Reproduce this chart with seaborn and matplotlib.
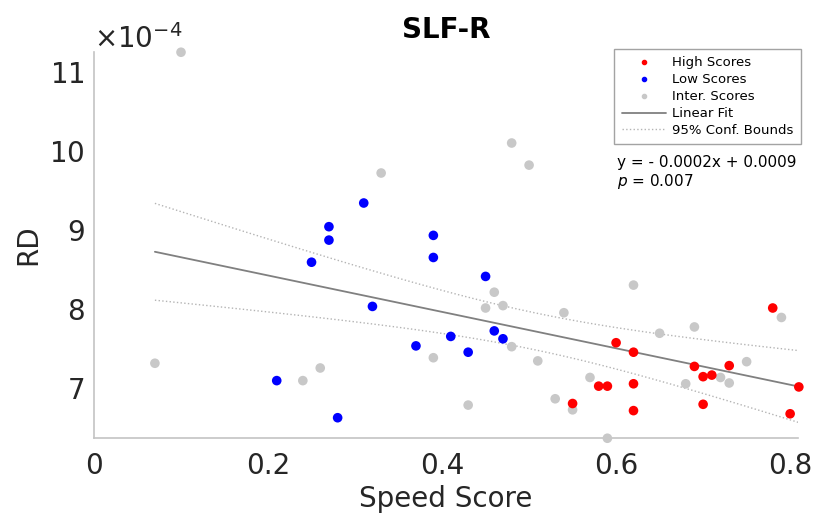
import numpy as np
import pandas as pd
import matplotlib
matplotlib.use("Agg")
import matplotlib.pyplot as plt
import seaborn as sns
from matplotlib.lines import Line2D
from matplotlib.ticker import ScalarFormatter

# Speed score vs RD (x1e-4)
high_x = [0.60, 0.62, 0.62, 0.62, 0.58, 0.59, 0.55, 0.69, 0.70, 0.71, 0.73, 0.70, 0.78, 0.81, 0.80]
high_y = [7.57, 7.45, 7.05, 6.71, 7.02, 7.02, 6.80, 7.27, 7.14, 7.16, 7.28, 6.79, 8.01, 7.01, 6.67]

low_x = [0.31, 0.27, 0.27, 0.25, 0.32, 0.21, 0.28, 0.39, 0.39, 0.45, 0.46, 0.47, 0.41, 0.37, 0.43]
low_y = [9.34, 9.04, 8.87, 8.59, 8.03, 7.09, 6.62, 8.93, 8.65, 8.41, 7.72, 7.62, 7.65, 7.53, 7.45]

inter_x = [0.07, 0.10, 0.24, 0.26, 0.33, 0.48, 0.50, 0.62, 0.46, 0.45, 0.47, 0.54, 0.65, 0.69,
           0.79, 0.75, 0.48, 0.39, 0.51, 0.57, 0.68, 0.72, 0.73, 0.53, 0.55, 0.43, 0.59]
inter_y = [7.31, 11.25, 7.09, 7.25, 9.72, 10.10, 9.82, 8.30, 8.21, 8.01, 8.04, 7.95, 7.69, 7.77,
           7.89, 7.33, 7.52, 7.38, 7.34, 7.13, 7.05, 7.13, 7.06, 6.86, 6.72, 6.78, 6.36]

T975 = 2.004  # t critical value, df = n - 2

df = pd.DataFrame({
    "speed": high_x + low_x + inter_x,
    "rd": np.array(high_y + low_y + inter_y) * 1e-4,
    "group": ["High"] * len(high_x) + ["Low"] * len(low_x) + ["Inter"] * len(inter_x),
})

sns.set_style("white")
plt.rcParams["font.family"] = ["DejaVu Sans"]

fig = plt.figure(figsize=(8.18, 5.21), dpi=100)
ax = fig.add_axes([0.1149, 0.1599, 0.8606, 0.7409])

# linear fit + 95% confidence bounds of the fit
x = df["speed"].values
y = df["rd"].values
n = len(x)
b1, b0 = np.polyfit(x, y, 1)
resid = y - (b1 * x + b0)
s = np.sqrt(np.sum(resid ** 2) / (n - 2))
sxx = np.sum((x - x.mean()) ** 2)
xf = np.linspace(x.min(), x.max(), 100)
yf = b1 * xf + b0
hw = T975 * s * np.sqrt(1 / n + (xf - x.mean()) ** 2 / sxx)

ax.plot(xf, yf, color="#808080", lw=1.3, zorder=2)
ax.plot(xf, yf + hw, color="#b4b4b4", lw=1.0, ls=":", zorder=2)
ax.plot(xf, yf - hw, color="#b4b4b4", lw=1.0, ls=":", zorder=2)

palette = {"High": "#ff0000", "Low": "#0000ff", "Inter": "#c8c8c8"}
for g in ["Inter", "Low", "High"]:
    sns.scatterplot(data=df[df["group"] == g], x="speed", y="rd", color=palette[g],
                    s=48, edgecolor="none", legend=False, ax=ax, zorder=3, clip_on=False)

ax.set_xlim(0, 0.809)
ax.set_ylim(6.367e-4, 11.257e-4)
ax.set_xticks([0, 0.2, 0.4, 0.6, 0.8])
ax.set_xticklabels(["0", "0.2", "0.4", "0.6", "0.8"])
ax.set_yticks(np.array([7, 8, 9, 10, 11]) * 1e-4)
fmt = ScalarFormatter(useMathText=True)
fmt.set_powerlimits((-4, -4))
ax.yaxis.set_major_formatter(fmt)
ax.yaxis.get_offset_text().set_fontsize(20)
ax.yaxis.get_offset_text().set_color("#262626")

for side in ["top", "right"]:
    ax.spines[side].set_visible(False)
for side in ["left", "bottom"]:
    ax.spines[side].set_color("#c4c4c4")
    ax.spines[side].set_linewidth(1.2)
ax.tick_params(direction="in", length=6, width=1, color="#c4c4c4", labelsize=20,
               labelcolor="#262626")
ax.tick_params(axis="x", pad=10)
ax.tick_params(axis="y", pad=7)

ax.set_xlabel("Speed Score", fontsize=20, color="#262626", labelpad=4)
ax.set_ylabel("RD", fontsize=20, color="#262626", labelpad=5)
ax.set_title("SLF-R", fontsize=20, fontweight="bold", color="black", pad=10)

handles = [
    Line2D([], [], ls="none", marker="o", ms=3, color="#ff0000"),
    Line2D([], [], ls="none", marker="o", ms=3, color="#0000ff"),
    Line2D([], [], ls="none", marker="o", ms=3, color="#c8c8c8"),
    Line2D([], [], color="#808080", lw=1.3),
    Line2D([], [], color="#b4b4b4", lw=1.0, ls=":"),
]
labels = ["High Scores", "Low Scores", "Inter. Scores", "Linear Fit", "95% Conf. Bounds"]
leg = ax.legend(handles, labels, loc="upper right", bbox_to_anchor=(801 / 818, 1 - 49 / 521),
                bbox_transform=fig.transFigure, fontsize=9.5, frameon=True, fancybox=False,
                edgecolor="#8c8c8c", handlelength=3.4, handletextpad=0.45, labelspacing=0.3,
                borderpad=0.55, borderaxespad=0)
leg.get_frame().set_linewidth(1.0)
for t in leg.get_texts():
    t.set_color("black")

fig.text(617 / 818, 1 - 163 / 521, "y = - 0.0002x + 0.0009", fontsize=11, va="center",
         color="black")
fig.text(617 / 818, 1 - 182 / 521, "$p$ = 0.007", fontsize=11, va="center", color="black")

fig.savefig("out.png", dpi=100)
